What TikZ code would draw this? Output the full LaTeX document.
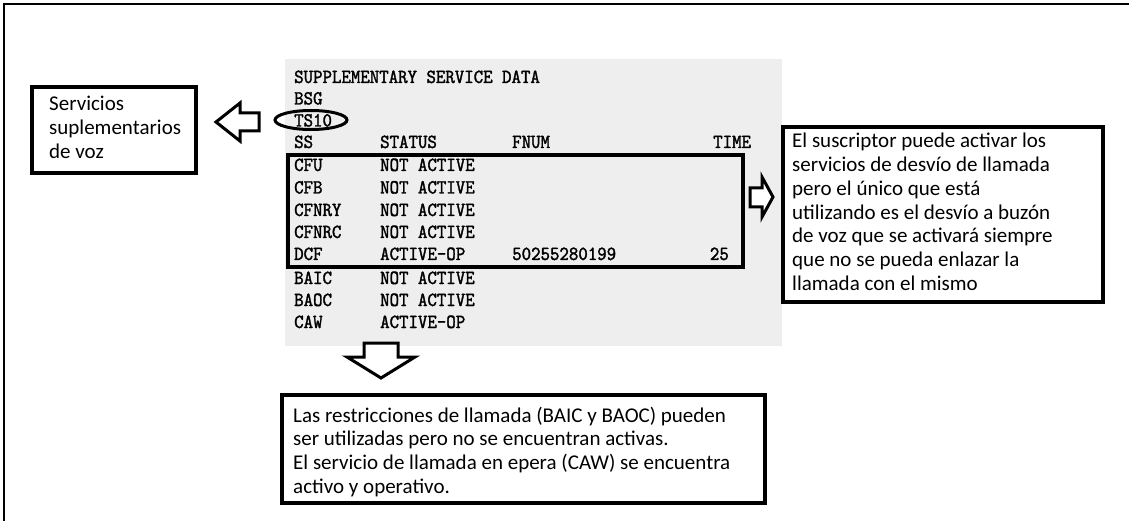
\documentclass[tikz,border=0pt]{standalone}
\usepackage{fontspec}
\usetikzlibrary{shapes.geometric}
\setmainfont{Carlito}
\newfontfamily\monofnt[Extension=.otf,FakeStretch=0.9,FakeBold=1.6]{lmmono10-regular}
\definecolor{panel}{RGB}{238,238,238}
\tikzset{
  mono/.style={font=\monofnt\fontsize{20}{24}\selectfont, anchor=base west, inner sep=0pt},
  monor/.style={mono, anchor=base east},
  note/.style={font=\fontsize{21}{23.7}\selectfont, anchor=base west, inner sep=0pt},
  box/.style={draw, line width=3.5pt, inner sep=0pt},
  blockarrow/.style={draw, fill=white, line width=3pt, line join=miter},
  hl/.style={draw, line width=3.5pt},
}
\begin{document}
\begin{tikzpicture}[x=1pt,y=-1pt]
\useasboundingbox (0,0) rectangle (1129,521);
% frame
\draw[line width=2pt] (4,521) -- (4,4) -- (1129,4);
% panel
\fill[panel] (285,59) rectangle (782,346);
% listing
\node[mono] (title) at (294,83) {SUPPLEMENTARY SERVICE DATA};
\node[mono] (bsg) at (294,104.5) {BSG};
\node[mono] (ts) at (294,126.5) {TS10};
\node[mono] (hss) at (294,148) {SS};
\node[mono] (hst) at (380,148) {STATUS};
\node[mono] (hfn) at (512,148) {FNUM};
\node[mono] (hti) at (713,148) {TIME};
\foreach \nm/\st/\yy [count=\i] in {CFU/NOT ACTIVE/171, CFB/NOT ACTIVE/193.5, CFNRY/NOT ACTIVE/216, CFNRC/NOT ACTIVE/238, DCF/ACTIVE-OP/260, BAIC/NOT ACTIVE/284, BAOC/NOT ACTIVE/306, CAW/ACTIVE-OP/328}{
  \node[mono] (ss\i) at (294,\yy) {\nm};
  \node[mono] (st\i) at (380,\yy) {\st};
}
\node[mono] (fnum) at (512,260) {50255280199};
\node[monor] (time) at (729,260) {25};
% highlights
\draw[hl] (288,155) rectangle (743,267);
\node[draw, ellipse, line width=3pt, minimum width=72pt, minimum height=19pt, inner sep=0pt] (ring) at (311,120) {};
% left box
\node[box, minimum width=164pt, minimum height=86pt] (lbox) at (114,130) {};
\node[note] (l1) at (49,111) {Servicios};
\node[note] (l2) at (49,135) {suplementarios};
\node[note] (l3) at (49,159) {de voz};
% right box
\node[box, minimum width=320pt, minimum height=175pt] (rbox) at (943,214.5) {};
\foreach \t [count=\i] in {El suscriptor puede activar los, servicios de desvío de llamada, pero el único que está, utilizando es el desvío a buzón, de voz que se activará siempre, que no se pueda enlazar la, llamada con el mismo}{
  \node[note] (r\i) at (792,{148+(\i-1)*23.7}) {\t};
}
% bottom box
\node[box, minimum width=483pt, minimum height=108pt] (bbox) at (523.5,449) {};
\foreach \t [count=\i] in {Las restricciones de llamada (BAIC y BAOC) pueden, ser utilizadas pero no se encuentran activas., El servicio de llamada en epera (CAW) se encuentra, activo y operativo.}{
  \node[note] (b\i) at (293,{422+(\i-1)*23.8}) {\t};
}
% block arrows
\draw[blockarrow] (216,122) -- (240,103) -- (240,113) -- (259,113) -- (259,131) -- (240,131) -- (240,141) -- cycle;
\draw[blockarrow] (750,188) -- (762,188) -- (762,177) -- (773,197) -- (762,217) -- (762,207) -- (750,207) -- cycle;
\draw[blockarrow] (364,343) -- (398,343) -- (398,357) -- (415,357) -- (381,378) -- (347,357) -- (364,357) -- cycle;
\end{tikzpicture}
\end{document}
